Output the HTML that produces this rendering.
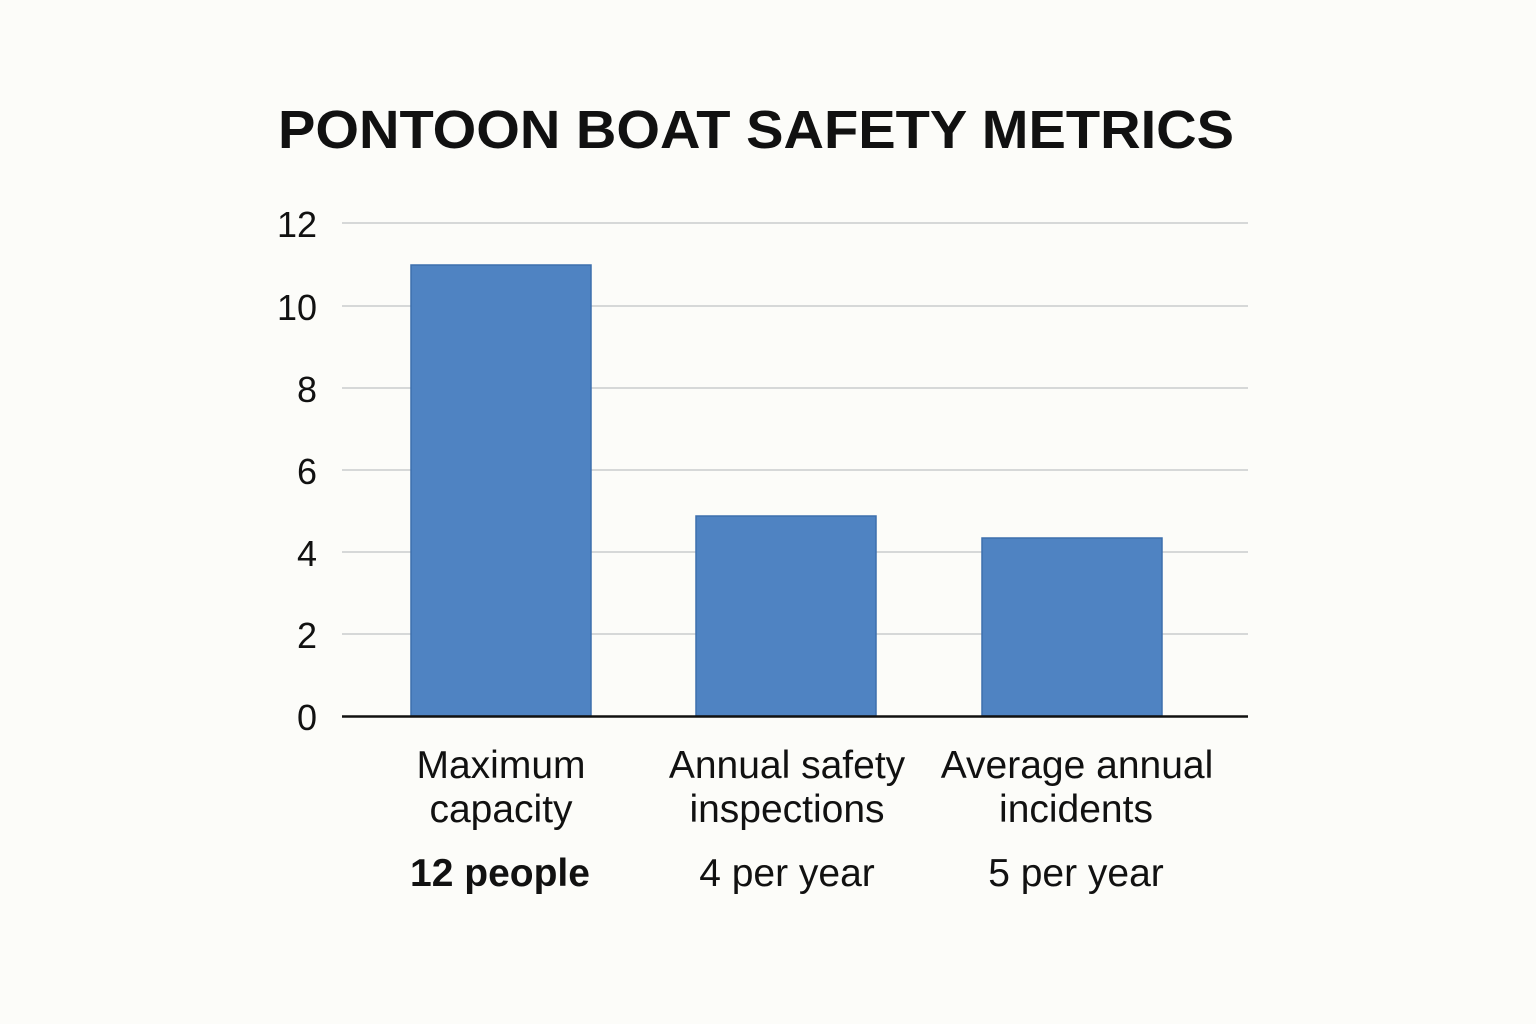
<!DOCTYPE html>
<html><head><style>
html,body{margin:0;padding:0;background:#fcfcf9;}
svg{display:block;}
text{font-family:"Liberation Sans",sans-serif;fill:#111;}
</style></head><body>
<svg width="1536" height="1024" viewBox="0 0 1536 1024">
<rect width="1536" height="1024" fill="#fcfcf9"/>
<text x="278" y="148" font-size="54" font-weight="bold" textLength="956" lengthAdjust="spacingAndGlyphs">PONTOON BOAT SAFETY METRICS</text>
<g stroke="#d6d8d8" stroke-width="2">
<line x1="342" y1="223" x2="1248" y2="223"/>
<line x1="342" y1="306" x2="1248" y2="306"/>
<line x1="342" y1="388" x2="1248" y2="388"/>
<line x1="342" y1="470" x2="1248" y2="470"/>
<line x1="342" y1="552" x2="1248" y2="552"/>
<line x1="342" y1="634" x2="1248" y2="634"/>
</g>
<g font-size="36" text-anchor="end">
<text x="317" y="237">12</text>
<text x="317" y="320">10</text>
<text x="317" y="402">8</text>
<text x="317" y="484">6</text>
<text x="317" y="566">4</text>
<text x="317" y="648">2</text>
<text x="317" y="730">0</text>
</g>
<g fill="#4f83c2" stroke="#3d6fad" stroke-width="1.5">
<rect x="411" y="265" width="180" height="451"/>
<rect x="696" y="516" width="180" height="200"/>
<rect x="982" y="538" width="180" height="178"/>
</g>
<line x1="342" y1="716.5" x2="1248" y2="716.5" stroke="#111" stroke-width="2.5"/>
<g font-size="39" text-anchor="middle">
<text x="501" y="778">Maximum</text>
<text x="501" y="822">capacity</text>
<text x="500" y="886" font-weight="bold">12 people</text>
<text x="787" y="778">Annual safety</text>
<text x="787" y="822">inspections</text>
<text x="787" y="886">4 per year</text>
<text x="1077" y="778">Average annual</text>
<text x="1076" y="822">incidents</text>
<text x="1076" y="886">5 per year</text>
</g>
</svg>
</body></html>
